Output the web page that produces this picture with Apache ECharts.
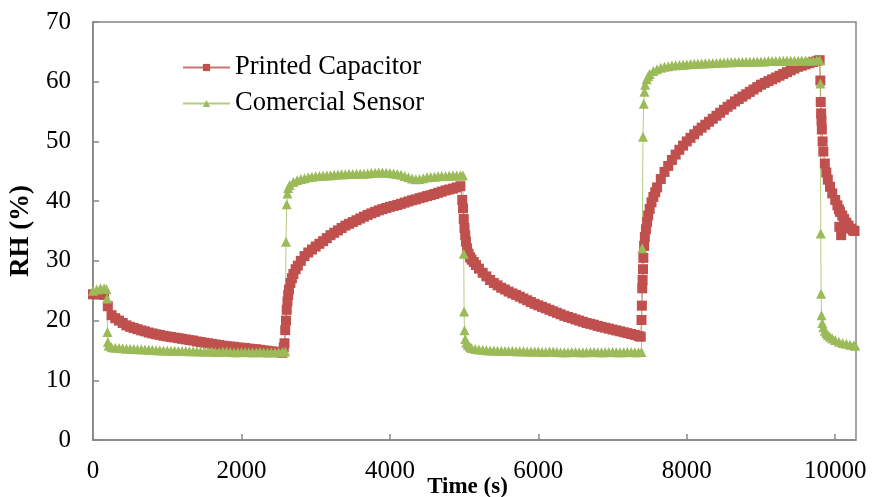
<!DOCTYPE html>
<html>
<head>
<meta charset="utf-8">
<script src="https://cdn.jsdelivr.net/npm/echarts@6/dist/echarts.min.js"></script>
<style>
  html, body { margin: 0; padding: 0; background: #fff; }
  #chart { width: 872px; height: 497px; }
</style>
</head>
<body>
<div id="chart"></div>
<script>
// Relative humidity (%) against time (s): printed capacitor vs commercial sensor
const seriesNames = ['Printed Capacitor', 'Comercial Sensor'];
const timeTicks = [0, 2000, 4000, 6000, 8000, 10000];

// [time (s), RH (%)]
const printedCapacitor = [
  [0,24.4],[50,24.4],[100,24.4],[150,24.3],[200,22.4],[250,20.9],[300,20.4],[350,20.0],[400,19.6],[450,19.2],
  [500,18.95],[550,18.75],[600,18.55],[650,18.35],[700,18.2],[750,18.0],[800,17.85],[850,17.7],[900,17.6],[950,17.45],
  [1000,17.35],[1050,17.25],[1100,17.15],[1150,17.05],[1200,16.95],[1250,16.85],[1300,16.75],[1350,16.65],[1400,16.5],[1450,16.4],
  [1500,16.3],[1550,16.2],[1600,16.1],[1650,16.0],[1700,15.9],[1750,15.8],[1800,15.7],[1850,15.65],[1900,15.6],[1950,15.5],
  [2000,15.45],[2050,15.4],[2100,15.3],[2150,15.25],[2200,15.2],[2250,15.1],[2300,15.0],[2350,14.95],[2400,14.85],[2450,14.8],
  [2500,14.7],[2550,14.6],[2570,15.5],[2580,16.2],[2590,18.4],[2600,20.0],[2610,21.8],[2620,23.2],[2630,24.3],[2640,25.2],
  [2660,26.3],[2680,27.1],[2700,27.8],[2730,28.6],[2760,29.2],[2800,30.0],[2850,30.8],[2900,31.4],[2950,31.9],[3000,32.4],
  [3050,32.85],[3100,33.3],[3150,33.8],[3200,34.3],[3250,34.7],[3300,35.1],[3350,35.5],[3400,35.9],[3450,36.2],[3500,36.5],
  [3550,36.8],[3600,37.1],[3650,37.4],[3700,37.7],[3750,37.95],[3800,38.2],[3850,38.45],[3900,38.65],[3950,38.85],[4000,39.05],
  [4050,39.2],[4100,39.35],[4150,39.55],[4200,39.75],[4250,39.95],[4300,40.15],[4350,40.3],[4400,40.5],[4450,40.65],[4500,40.85],
  [4550,41.0],[4600,41.2],[4650,41.4],[4700,41.6],[4750,41.8],[4800,41.95],[4850,42.1],[4900,42.3],[4950,42.5],
  [4975,40.2],[4985,38.8],[4995,37.0],[5005,35.5],[5015,34.3],[5025,33.2],[5040,32.1],[5060,31.2],[5080,30.6],[5100,30.2],
  [5130,29.8],[5160,29.3],[5200,28.7],[5250,28.0],[5300,27.4],[5350,26.8],[5400,26.3],[5450,25.9],[5500,25.5],[5550,25.2],
  [5600,24.85],[5650,24.55],[5700,24.3],[5750,24.0],[5800,23.7],[5850,23.4],[5900,23.1],[5950,22.8],[6000,22.55],[6050,22.3],
  [6100,22.05],[6150,21.8],[6200,21.55],[6250,21.3],[6300,21.05],[6350,20.8],[6400,20.6],[6450,20.4],[6500,20.2],[6550,20.0],
  [6600,19.8],[6650,19.6],[6700,19.45],[6750,19.3],[6800,19.1],[6850,18.95],[6900,18.8],[6950,18.65],[7000,18.5],[7050,18.35],
  [7100,18.2],[7150,18.05],[7200,17.9],[7250,17.75],[7300,17.6],[7350,17.4],[7380,17.3],
  [7390,20.1],[7395,22.5],[7400,25.4],[7405,26.8],[7410,28.6],[7415,30.5],[7425,32.5],[7435,34.0],[7450,35.3],[7465,36.5],
  [7480,37.6],[7500,38.7],[7525,39.8],[7550,40.7],[7575,41.5],[7600,42.3],[7650,43.7],[7700,44.9],[7750,45.9],[7800,46.9],
  [7850,47.8],[7900,48.6],[7950,49.3],[8000,50.0],[8050,50.6],[8100,51.2],[8150,51.8],[8200,52.3],[8250,52.8],[8300,53.3],
  [8350,53.8],[8400,54.3],[8450,54.8],[8500,55.3],[8550,55.8],[8600,56.2],[8650,56.7],[8700,57.1],[8750,57.5],[8800,57.9],
  [8850,58.3],[8900,58.7],[8950,59.1],[9000,59.5],[9050,59.8],[9100,60.1],[9150,60.4],[9200,60.7],[9250,61.0],[9300,61.3],
  [9350,61.6],[9400,61.9],[9450,62.2],[9500,62.5],[9550,62.7],[9600,62.9],[9650,63.1],[9700,63.3],[9750,63.5],[9790,63.6],
  [9800,60.2],[9805,56.6],[9810,54.7],[9815,53.5],[9820,52.0],[9830,50.0],[9840,48.3],[9860,46.3],[9880,44.8],[9900,43.6],
  [9930,42.4],[9960,41.3],[10000,40.2],[10030,39.3],[10050,38.6],[10055,35.7],[10065,38.2],[10080,34.3],[10095,37.6],[10120,37.0],
  [10150,36.4],[10180,35.9],[10210,35.4],[10240,35.1],[10260,35.0]
];

const comercialSensor = [
  [0,25.0],[50,25.2],[100,25.4],[150,25.4],[180,25.3],[190,23.7],[195,18.1],[200,16.4],[210,15.8],[250,15.55],
  [300,15.45],[350,15.4],[400,15.35],[450,15.3],[500,15.3],[550,15.25],[600,15.2],[650,15.2],[700,15.15],[750,15.1],
  [800,15.1],[850,15.05],[900,15.05],[950,15.0],[1000,15.0],[1050,14.95],[1100,14.95],[1150,14.9],[1200,14.9],[1250,14.9],
  [1300,14.85],[1350,14.85],[1400,14.85],[1450,14.8],[1500,14.8],[1550,14.8],[1600,14.8],[1650,14.75],[1700,14.75],[1750,14.8],
  [1800,14.8],[1850,14.75],[1900,14.7],[1950,14.7],[2000,14.75],[2050,14.75],[2100,14.7],[2150,14.7],[2200,14.7],[2250,14.75],
  [2300,14.7],[2350,14.65],[2400,14.7],[2450,14.7],[2500,14.7],[2550,14.75],[2590,14.8],
  [2600,33.2],[2610,39.5],[2620,41.3],[2630,42.2],[2650,42.7],[2700,43.2],[2750,43.5],[2800,43.7],[2850,43.85],[2900,44.0],
  [2950,44.1],[3000,44.15],[3050,44.2],[3100,44.25],[3150,44.3],[3200,44.35],[3250,44.4],[3300,44.45],[3350,44.5],[3400,44.5],
  [3450,44.55],[3500,44.55],[3550,44.6],[3600,44.6],[3650,44.6],[3700,44.65],[3750,44.7],[3800,44.75],[3850,44.8],[3900,44.8],
  [3950,44.75],[4000,44.7],[4050,44.65],[4100,44.55],[4150,44.4],[4200,44.2],[4250,44.0],[4300,43.8],[4350,43.65],[4400,43.7],
  [4450,43.85],[4500,44.0],[4550,44.05],[4600,44.1],[4650,44.15],[4700,44.2],[4750,44.2],[4800,44.25],[4850,44.3],[4900,44.3],
  [4950,44.3],[4985,44.3],[4995,31.2],[5000,21.5],[5005,18.4],[5015,16.9],[5030,16.3],[5050,15.9],[5075,15.6],[5100,15.4],
  [5150,15.25],[5200,15.15],[5250,15.1],[5300,15.05],[5350,15.0],[5400,15.0],[5450,14.95],[5500,14.95],[5550,14.9],[5600,14.9],
  [5650,14.9],[5700,14.85],[5750,14.85],[5800,14.85],[5850,14.8],[5900,14.8],[5950,14.8],[6000,14.8],[6050,14.75],[6100,14.75],
  [6150,14.8],[6200,14.8],[6250,14.75],[6300,14.7],[6350,14.7],[6400,14.7],[6450,14.75],[6500,14.75],[6550,14.7],[6600,14.7],
  [6650,14.7],[6700,14.75],[6750,14.75],[6800,14.7],[6850,14.7],[6900,14.7],[6950,14.75],[7000,14.75],[7050,14.7],[7100,14.7],
  [7150,14.7],[7200,14.75],[7250,14.75],[7300,14.7],[7350,14.7],[7390,14.75],
  [7400,32.1],[7410,50.8],[7420,56.3],[7430,58.3],[7440,59.5],[7460,60.4],[7480,60.9],[7500,61.3],[7550,61.8],[7600,62.1],
  [7650,62.35],[7700,62.5],[7750,62.6],[7800,62.7],[7850,62.75],[7900,62.8],[7950,62.85],[8000,62.9],[8050,62.95],[8100,63.0],
  [8150,63.0],[8200,63.05],[8250,63.1],[8300,63.1],[8350,63.15],[8400,63.15],[8450,63.2],[8500,63.2],[8550,63.25],[8600,63.25],
  [8650,63.3],[8700,63.3],[8750,63.3],[8800,63.35],[8850,63.35],[8900,63.35],[8950,63.4],[9000,63.4],[9050,63.4],[9100,63.45],
  [9150,63.45],[9200,63.45],[9250,63.45],[9300,63.5],[9350,63.5],[9400,63.5],[9450,63.5],[9500,63.5],[9550,63.55],[9600,63.55],
  [9650,63.55],[9700,63.55],[9750,63.6],[9790,63.6],
  [9800,59.7],[9805,34.6],[9810,24.5],[9815,20.9],[9825,19.6],[9840,18.9],[9860,18.3],[9880,17.9],[9900,17.6],[9930,17.3],
  [9960,17.0],[10000,16.75],[10050,16.45],[10100,16.25],[10150,16.1],[10200,15.95],[10250,15.85],[10270,15.8]
];

const serif = '"Liberation Serif", "Times New Roman", serif';
const axisGray = '#868686';
const red = '#C0504D';
const green = '#9BBB59';

const chart = echarts.init(document.getElementById('chart'), null, { renderer: 'canvas' });

chart.setOption({
  animation: false,
  backgroundColor: '#ffffff',
  grid: {
    left: 93, top: 22, right: 16, bottom: 57,
    outerBoundsMode: 'none',
    containLabel: false,
    show: true, borderColor: axisGray, borderWidth: 1.5, backgroundColor: 'transparent'
  },
  legend: {
    orient: 'vertical',
    left: 177, top: 49,
    itemWidth: 47, itemHeight: 9, itemGap: 9,
    textStyle: { fontFamily: serif, fontSize: 26.5, color: '#000' },
    data: seriesNames
  },
  xAxis: {
    type: 'value',
    min: 0, max: 10280,
    name: 'Time (s)',
    nameLocation: 'middle',
    nameGap: 36,
    nameMoveOverlap: false,
    nameTextStyle: { fontFamily: serif, fontSize: 23, fontWeight: 'bold', color: '#000', padding: [0, 14, 0, 0] },
    axisLine: { show: true, lineStyle: { color: axisGray, width: 1.5 } },
    axisTick: { show: true, inside: true, length: 6, customValues: timeTicks, lineStyle: { color: axisGray, width: 1.5 } },
    axisLabel: {
      customValues: timeTicks, margin: 19, fontFamily: serif, fontSize: 25, color: '#000',
      formatter: function (v) { return String(v); }
    },
    splitLine: { show: false }
  },
  yAxis: {
    type: 'value',
    min: 0, max: 70, interval: 10,
    name: 'RH (%)',
    nameLocation: 'middle',
    nameGap: 58,
    nameRotate: 90,
    nameMoveOverlap: false,
    nameTextStyle: { fontFamily: serif, fontSize: 27, fontWeight: 'bold', color: '#000' },
    axisLine: { show: true, lineStyle: { color: axisGray, width: 1.5 } },
    axisTick: { show: true, inside: true, length: 6, lineStyle: { color: axisGray, width: 1.5 } },
    axisLabel: { margin: 22, fontFamily: serif, fontSize: 25, color: '#000' },
    splitLine: { show: false }
  },
  series: [
    {
      name: seriesNames[0],
      type: 'line',
      data: printedCapacitor,
      clip: false,
      symbol: 'rect',
      symbolSize: 10,
      showAllSymbol: true,
      itemStyle: { color: red },
      lineStyle: { color: red, width: 1, opacity: 0.8 },
      emphasis: { disabled: true }
    },
    {
      name: seriesNames[1],
      type: 'line',
      data: comercialSensor,
      clip: false,
      symbol: 'triangle',
      symbolSize: 10,
      showAllSymbol: true,
      itemStyle: { color: green },
      lineStyle: { color: green, width: 1, opacity: 0.75 },
      emphasis: { disabled: true }
    }
  ]
});
</script>
</body>
</html>
